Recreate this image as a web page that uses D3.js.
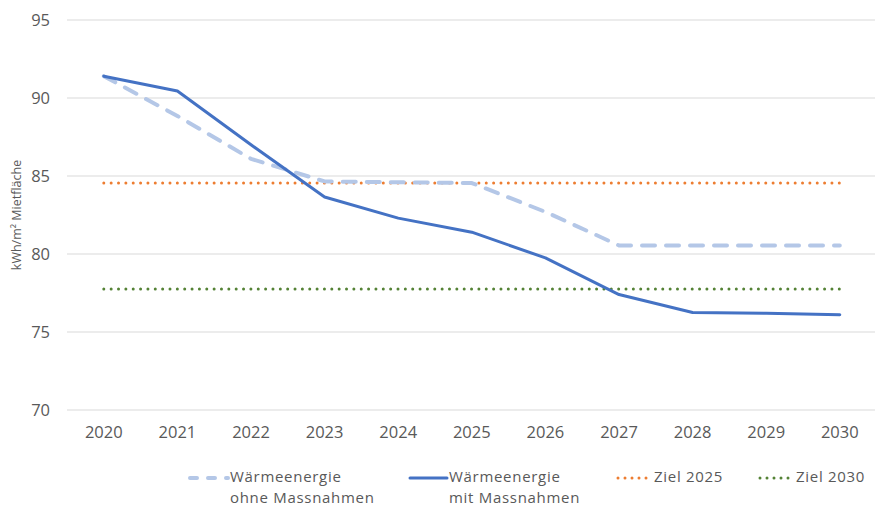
<!DOCTYPE html>
<html><head><meta charset="utf-8">
<script src="https://cdn.jsdelivr.net/npm/d3@7"></script>
<style>body{margin:0;background:#fff}svg{display:block}text{font-family:"Open Sans","Noto Sans",sans-serif;fill:#595959}</style>
</head><body>
<svg id="c" width="875" height="508"></svg>
<script>
const years = ["2020","2021","2022","2023","2024","2025","2026","2027","2028","2029","2030"];
const ohneMassnahmen = [91.4, 88.85, 86.1, 84.65, 84.6, 84.55, 82.7, 80.55, 80.55, 80.55, 80.55];
const mitMassnahmen = [91.4, 90.45, 87.0, 83.65, 82.3, 81.4, 79.75, 77.4, 76.25, 76.2, 76.1];
const ziel2025 = [84.55, 84.55, 84.55, 84.55, 84.55, 84.55, 84.55, 84.55, 84.55, 84.55, 84.55];
const ziel2030 = [77.75, 77.75, 77.75, 77.75, 77.75, 77.75, 77.75, 77.75, 77.75, 77.75, 77.75];
const yTicks = [70, 75, 80, 85, 90, 95];

const FONT = '"Open Sans","Noto Sans",sans-serif';
const svg = d3.select("#c");
const x = d3.scaleBand().domain(years).range([67, 876.6]);
const y = d3.scaleLinear().domain([70, 95]).range([410, 20]);
const cx = d => x(d) + x.bandwidth()/2;

// grid
svg.append("g").selectAll("line").data(yTicks).join("line")
  .attr("x1", 67).attr("x2", 876.6).attr("y1", d=>y(d)).attr("y2", d=>y(d))
  .attr("stroke", "#d9d9d9").attr("stroke-width", 1.2);

// y axis labels
const ya = svg.append("g").attr("transform","translate(50,0)")
  .call(d3.axisLeft(y).tickValues(yTicks).tickSize(0).tickPadding(0));
ya.select(".domain").remove();
ya.selectAll("text").attr("font-size", 16.5).attr("font-family", FONT).attr("fill","#595959");

// x axis labels
const xa = svg.append("g").attr("transform","translate(0,426)")
  .call(d3.axisBottom(x).tickSize(0).tickPadding(0));
xa.select(".domain").remove();
xa.selectAll("text").attr("font-size", 16.5).attr("font-family", FONT).attr("fill","#595959");

// y title
svg.append("text").attr("transform","translate(21,215) rotate(-90)")
  .attr("text-anchor","middle").attr("font-size", 12.5).text("kWh/m² Mietfläche");

const line = d3.line().x((d,i)=>cx(years[i])).y(d=>y(d));

const series = [
  {data: ziel2025, color:"#ed7d31", w:3, dash:"0,7.355", cap:"round"},
  {data: ziel2030, color:"#548235", w:3, dash:"0,7.355", cap:"round"},
  {data: ohneMassnahmen, color:"#b4c7e7", w:4, dash:"13,11", cap:"round"},
  {data: mitMassnahmen, color:"#4472c4", w:3, dash:null, cap:"round"}
];
series.forEach(s=>{
  svg.append("path").attr("d", line(s.data)).attr("fill","none")
    .attr("stroke", s.color).attr("stroke-width", s.w)
    .attr("stroke-dasharray", s.dash).attr("stroke-linecap", s.cap)
    .attr("stroke-linejoin","round");
});

// legend
const leg = [
  {x1:190, x2:228, color:"#b4c7e7", w:4, dash:"7,11", lines:["Wärmeenergie","ohne Massnahmen"]},
  {x1:410, x2:447, color:"#4472c4", w:3, dash:null, lines:["Wärmeenergie","mit Massnahmen"]},
  {x1:618, x2:652, color:"#ed7d31", w:3, dash:"0,7", lines:["Ziel 2025"]},
  {x1:760, x2:794, color:"#548235", w:3, dash:"0,7", lines:["Ziel 2030"]}
];
leg.forEach(l=>{
  svg.append("line").attr("x1",l.x1).attr("x2",l.x2).attr("y1",478).attr("y2",478)
    .attr("stroke",l.color).attr("stroke-width",l.w).attr("stroke-dasharray",l.dash)
    .attr("stroke-linecap","round");
  l.lines.forEach((s,i)=>svg.append("text").attr("x", l.x2+2).attr("y", 482 + i*21)
    .attr("font-size",15).attr("letter-spacing", 0.7).text(s));
});
</script>
</body></html>
